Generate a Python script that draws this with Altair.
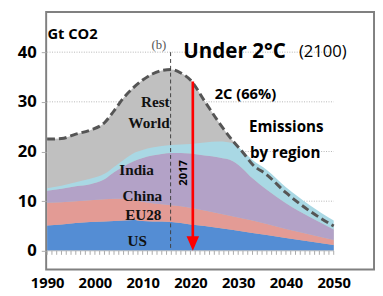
import altair as alt
import pandas as pd

# ---- data (Gt CO2) ----
years = [1990, 1993, 1996, 1999, 2002, 2004, 2006, 2008, 2010, 2012, 2014, 2016,
         2018, 2020, 2023, 2026, 2029, 2031, 2033, 2036, 2040, 2045, 2050]
us = [5.1, 5.3, 5.6, 5.8, 5.9, 6.0, 6.1, 6.2, 6.0, 5.9, 5.9, 5.8,
      5.6, 5.3, 5.0, 4.6, 4.2, 3.9, 3.6, 3.2, 2.6, 1.9, 1.2]
eu28 = [4.6, 4.5, 4.4, 4.4, 4.5, 4.5, 4.4, 4.1, 3.9, 3.7, 3.5, 3.4,
        3.4, 3.4, 3.1, 2.9, 2.7, 2.6, 2.5, 2.2, 1.8, 1.4, 1.0]
china = [2.4, 2.7, 3.0, 3.2, 4.0, 5.3, 6.5, 7.7, 8.8, 9.6, 10.1, 10.5,
         10.7, 10.9, 11.1, 11.3, 11.1, 10.0, 8.5, 6.9, 5.2, 3.5, 2.1]
india = [0.5, 0.6, 0.8, 1.1, 1.1, 1.1, 1.3, 1.6, 1.6, 1.6, 1.6, 1.6,
         1.7, 1.9, 2.6, 3.2, 3.6, 3.5, 3.7, 4.0, 3.2, 2.4, 1.8]
total = [22.5, 22.6, 23.5, 24.3, 25.8, 28.2, 30.8, 32.8, 34.4, 35.6, 36.3, 36.5,
         35.8, 34.4, 30.1, 25.8, 22.0, 19.8, 17.4, 15.3, 11.7, 8.0, 5.0]

regions = ["US", "EU28", "China", "India"]
region_colors = ["#548DD4", "#E39B95", "#B3A2C7", "#A9D8E4"]
x_ticks = [1990, 2000, 2010, 2020, 2030, 2040, 2050]
y_ticks = [0, 10, 20, 30, 40]
grid_values = [10, 20, 30, 40]
marker_year = 2015.85      # dashed "2017" marker
arrow_year = 2020.5        # red arrow
arrow_top = 34.1

# ---- tables ----
rows = []
for i, y in enumerate(years):
    for o, (name, series) in enumerate(zip(regions, [us, eu28, china, india])):
        rows.append({"year": y, "region": name, "value": series[i], "ord": o})
stack_df = pd.DataFrame(rows)
total_df = pd.DataFrame({"year": years, "value": total})

xs = alt.Scale(domain=[1989.795, 2058.44], nice=False, zero=False)
ys = alt.Scale(domain=[-3.74, 48.08], nice=False, zero=False)
x_axis = alt.Axis(values=x_ticks, format="d", title=None, grid=False, domain=False,
                  ticks=False, labelPadding=6, labelFont="Open Sans",
                  labelFontWeight="bold", labelFontSize=15, labelColor="black",
                  labelFlush=False)
y_axis = alt.Axis(values=y_ticks, title=None, grid=False, domain=False,
                  tickSize=5, tickColor="#aaaaaa", labelPadding=5,
                  labelFont="Open Sans", labelFontWeight="bold", labelFontSize=17,
                  labelColor="black")


def X(field="year"):
    return alt.X(f"{field}:Q", scale=xs, axis=x_axis)


def Y(field="value", **kw):
    return alt.Y(f"{field}:Q", scale=ys, axis=y_axis, **kw)


# grid lines
grid_df = pd.DataFrame({"value": grid_values, "year": 1990, "year2": 2050})
grid = alt.Chart(grid_df).mark_rule(color="#b4b4b4", strokeWidth=1, strokeDash=[1, 1.5]).encode(
    x=X(), x2="year2:Q", y=Y(),
)

# Rest-of-world envelope (total) behind stacked regions
rest = alt.Chart(total_df).mark_area(color="#C0C0C0", interpolate="monotone").encode(
    x=X(), y=Y(),
)

areas = alt.Chart(stack_df).mark_area(interpolate="monotone", opacity=1).encode(
    x=X(),
    y=Y(stack="zero"),
    color=alt.Color("region:N", scale=alt.Scale(domain=regions, range=region_colors), legend=None),
    order=alt.Order("ord:Q"),
)

total_line = alt.Chart(total_df).mark_line(
    color="#555555", strokeWidth=3, strokeDash=[8, 4], interpolate="monotone"
).encode(x=X(), y=Y())

# minor year ticks and baseline
tick_df = pd.DataFrame({"year": list(range(1990, 2051)), "value": 0, "value2": -0.8})
minor = alt.Chart(tick_df).mark_rule(color="#aaaaaa", strokeWidth=1).encode(
    x=X(), y=Y(), y2="value2:Q",
)
base_df = pd.DataFrame({"year": [1990], "year2": [2050], "value": [0]})
baseline = alt.Chart(base_df).mark_rule(color="#c4c4c4", strokeWidth=1).encode(
    x=X(), x2="year2:Q", y=Y(),
)

# vertical dashed marker
vm_df = pd.DataFrame({"year": [marker_year], "value": [40], "value2": [0]})
vmark = alt.Chart(vm_df).mark_rule(color="#404040", strokeWidth=1, strokeDash=[4, 3]).encode(
    x=X(), y=Y(), y2="value2:Q",
)

# red arrow
ar_df = pd.DataFrame({"year": [arrow_year], "value": [arrow_top], "value2": [2.0]})
arrow_line = alt.Chart(ar_df).mark_rule(color="#FF0000", strokeWidth=2.7).encode(
    x=X(), y=Y(), y2="value2:Q",
)
ah_df = pd.DataFrame({"year": [arrow_year], "value": [1.48]})
arrow_head = alt.Chart(ah_df).mark_point(
    shape="M-0.85,-1L0.85,-1L0,1Z", filled=True, size=225, color="#FF0000", opacity=1, strokeWidth=0
).encode(x=X(), y=Y())


def label(items, **mk):
    df = pd.DataFrame(items, columns=["year", "value", "text"])
    return alt.Chart(df).mark_text(**mk).encode(x=X(), y=Y(), text="text:N")


sans_b = dict(font="Open Sans", fontWeight="bold", color="black", align="left")
serif_b = dict(font="Liberation Serif", fontWeight="bold", color="#111111", fontSize=15.5)

texts = [
    label([(1990.05, 43.55, "Gt CO2")], fontSize=15, **sans_b),
    label([(2013.38, 41.38, "(b)")], font="Liberation Serif", fontSize=13, color="#555555", align="center"),
    label([(2018.51, 40.0, "Under 2°C")], fontSize=21, **sans_b),
    label([(2042.72, 40.0, "(2100)")], font="Open Sans", fontSize=17, color="black", align="left"),
    label([(2025.08, 31.59, "2C (66%)")], fontSize=15, **sans_b),
    label([(2032.26, 24.89, "Emissions"), (2032.46, 19.65, "by region")], fontSize=15.5, **sans_b),
    label([(2015.64, 29.95, "Rest"), (2015.64, 25.75, "World")], align="right", **serif_b),
    label([(2005.12, 16.35, "India"), (2005.79, 11.09, "China"),
           (2006.35, 7.15, "EU28"), (2006.82, 2.03, "US")], align="left", **serif_b),
    label([(2018.57, 15.70, "2017")], font="Open Sans", fontWeight="bold", fontSize=11.5,
          color="black", angle=270, align="center", baseline="middle"),
]

chart = alt.layer(
    grid, rest, areas, total_line, baseline, minor, vmark, arrow_line, arrow_head, *texts
).properties(
    width=335, height=263,
    padding={"left": 39, "top": 1, "right": 1, "bottom": 22},
    autosize=alt.AutoSizeParams(type="none"),
).configure_view(stroke="#808080", strokeWidth=2)

chart.save("out.html", embed_options={"renderer": "svg", "actions": False})
